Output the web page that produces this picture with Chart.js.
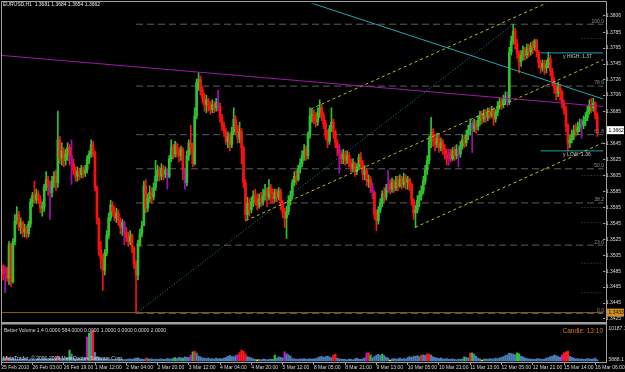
<!DOCTYPE html>
<html>
<head>
<meta charset="utf-8">
<script src="https://cdn.jsdelivr.net/npm/chart.js@4.4.0/dist/chart.umd.min.js"></script>
<style>
  html, body { margin: 0; padding: 0; background: #000; }
  #wrap { width: 625px; height: 372px; }
</style>
</head>
<body>
<div id="wrap"><canvas id="myChart" width="625" height="372"></canvas></div>
<script>
// EURUSD H1, prices kept in pips: 3490 -> 1.3490
let firstOpen = 3486;
let closes = [
  3490,3482,3488,3476,3518,3472,3522,3548,3556,3540,3546,3534,3538,3532,3544,3572,
  3580,3574,3582,3576,3564,3566,3590,3600,3592,3584,3598,3604,3596,3650,3626,3636,
  3624,3632,3640,3630,3620,3612,3604,3610,3606,3614,3608,3612,3626,3632,3644,3634,
  3590,3550,3512,3500,3486,3508,3530,3552,3568,3560,3552,3558,3548,3540,3546,3534,
  3528,3522,3530,3514,3494,3480,3520,3532,3542,3592,3564,3576,3584,3578,3590,3604,
  3612,3604,3614,3606,3612,3604,3626,3640,3632,3644,3636,3630,3638,3612,3596,3630,
  3646,3640,3620,3680,3722,3726,3712,3702,3694,3700,3692,3688,3694,3690,3696,3692,
  3678,3668,3660,3648,3654,3644,3660,3676,3664,3652,3660,3640,3596,3556,3570,3562,
  3572,3580,3574,3568,3576,3572,3580,3586,3578,3590,3582,3576,3584,3578,3586,3570,
  3560,3552,3560,3574,3580,3596,3604,3600,3614,3620,3630,3636,3630,3656,3680,3682,
  3676,3672,3684,3690,3680,3670,3656,3648,3664,3672,3660,3646,3640,3632,3626,3632,
  3624,3630,3622,3614,3620,3610,3616,3628,3620,3606,3612,3598,3600,3590,3584,3556,
  3548,3562,3570,3582,3578,3588,3594,3588,3596,3590,3598,3592,3600,3594,3602,3596,
  3600,3594,3574,3558,3562,3574,3580,3586,3598,3612,3624,3648,3660,3650,3644,3652,
  3640,3646,3638,3632,3626,3634,3626,3636,3630,3638,3632,3642,3650,3646,3656,3662,
  3670,3664,3670,3666,3674,3680,3676,3682,3678,3684,3680,3686,3676,3684,3692,3698,
  3694,3700,3704,3698,3760,3774,3786,3770,3758,3748,3756,3762,3756,3764,3760,3768,
  3766,3774,3760,3746,3740,3746,3740,3744,3752,3736,3724,3716,3708,3716,3710,3696,
  3688,3668,3646,3650,3656,3662,3660,3666,3670,3668,3674,3678,3686,3694,3690,3696,
  3681,3662
];
let highs = [
  3495,3493,3492,3490,3522,3520,3526,3556,3566,3560,3552,3548,3544,3542,3548,3576,
  3584,3598,3588,3586,3580,3572,3594,3610,3604,3598,3604,3610,3612,3686,3654,3646,
  3640,3638,3646,3644,3650,3626,3616,3616,3614,3618,3616,3618,3630,3636,3650,3648,
  3636,3592,3552,3522,3506,3512,3536,3558,3574,3572,3566,3564,3562,3552,3550,3548,
  3540,3534,3536,3532,3516,3498,3524,3538,3548,3598,3600,3582,3592,3590,3596,3624,
  3618,3616,3620,3618,3616,3614,3630,3650,3644,3648,3646,3640,3642,3640,3614,3636,
  3650,3668,3646,3690,3726,3734,3730,3716,3708,3706,3702,3698,3700,3698,3702,3712,
  3696,3682,3672,3664,3660,3658,3666,3690,3680,3668,3672,3664,3642,3600,3578,3576,
  3578,3586,3588,3582,3582,3584,3588,3594,3590,3600,3594,3588,3588,3588,3590,3588,
  3574,3564,3566,3580,3586,3600,3610,3612,3618,3626,3636,3644,3642,3660,3690,3688,
  3688,3684,3690,3700,3694,3684,3674,3662,3668,3690,3676,3662,3650,3644,3636,3638,
  3636,3636,3634,3626,3626,3622,3620,3632,3634,3624,3618,3614,3606,3604,3596,3586,
  3562,3566,3576,3586,3590,3594,3612,3600,3602,3600,3604,3604,3606,3604,3608,3606,
  3604,3602,3596,3576,3568,3580,3586,3592,3604,3618,3630,3655,3678,3664,3656,3658,
  3656,3652,3650,3644,3638,3638,3638,3640,3642,3644,3642,3648,3656,3656,3662,3668,
  3676,3674,3676,3674,3680,3686,3686,3688,3688,3690,3690,3692,3690,3688,3698,3702,
  3702,3706,3710,3710,3766,3780,3795,3790,3776,3762,3762,3768,3766,3770,3770,3772,
  3774,3776,3776,3762,3750,3750,3750,3750,3760,3756,3740,3728,3720,3722,3720,3712,
  3700,3692,3670,3656,3662,3668,3670,3672,3676,3676,3680,3684,3692,3700,3702,3702,
  3698,3684
];
let lows = [
  3480,3474,3458,3472,3468,3466,3470,3518,3544,3536,3532,3528,3528,3526,3528,3540,
  3566,3570,3570,3570,3558,3554,3560,3586,3580,3550,3578,3590,3586,3590,3620,3618,
  3616,3618,3624,3618,3594,3606,3598,3598,3600,3602,3602,3604,3608,3620,3628,3628,
  3586,3544,3504,3488,3461,3480,3504,3526,3548,3554,3548,3546,3542,3532,3530,3518,
  3522,3516,3518,3508,3488,3432,3474,3516,3528,3548,3558,3560,3572,3570,3574,3586,
  3598,3598,3600,3600,3602,3588,3602,3622,3626,3628,3628,3622,3624,3600,3588,3592,
  3624,3632,3616,3618,3676,3712,3706,3696,3686,3684,3686,3682,3684,3684,3686,3686,
  3672,3662,3654,3644,3640,3636,3640,3656,3656,3646,3646,3620,3590,3548,3550,3554,
  3558,3566,3568,3562,3564,3566,3568,3574,3566,3574,3570,3570,3572,3572,3574,3562,
  3552,3540,3526,3556,3568,3576,3592,3594,3598,3608,3616,3624,3624,3626,3652,3672,
  3670,3666,3668,3678,3674,3664,3650,3640,3644,3660,3652,3640,3630,3608,3620,3620,
  3618,3620,3616,3610,3610,3604,3606,3612,3614,3600,3600,3592,3590,3584,3576,3550,
  3536,3544,3558,3566,3572,3574,3584,3582,3584,3584,3586,3586,3590,3588,3590,3588,
  3588,3586,3568,3550,3540,3558,3566,3574,3582,3594,3606,3620,3640,3642,3636,3640,
  3634,3636,3632,3626,3618,3618,3622,3624,3624,3626,3616,3628,3638,3640,3642,3650,
  3656,3634,3660,3658,3662,3668,3670,3672,3672,3674,3676,3678,3668,3672,3680,3688,
  3688,3690,3694,3692,3694,3756,3770,3764,3752,3734,3742,3750,3750,3752,3754,3756,
  3758,3762,3754,3740,3734,3736,3732,3734,3740,3730,3718,3708,3700,3704,3700,3690,
  3682,3660,3636,3640,3646,3650,3654,3656,3660,3652,3664,3668,3674,3682,3684,3686,
  3676,3654
];
// bars drawn in the doji/line colour
let purpleBars = [2, 25, 36, 63, 85, 94, 111, 173, 190, 198, 229, 234, 241, 259, 297];

let volumes = [
  800,1000,700,1300,900,600,800,700,600,500,400,500,600,500,400,700,
  600,500,700,800,600,500,900,700,600,800,700,600,900,1600,1100,800,
  700,800,1000,3500,2200,900,700,600,800,600,700,1000,7600,8900,9200,9900,
  2800,1200,900,700,600,500,600,400,500,400,300,500,400,600,500,400,
  500,600,700,500,800,900,1000,700,600,500,900,800,600,700,500,600,
  500,600,700,500,600,800,700,600,900,1100,800,1200,1000,900,1300,1200,
  1100,1900,2900,3200,2500,1600,1300,1000,900,800,1000,700,800,600,900,700,
  800,700,900,1100,1500,1800,1400,1300,1700,2000,2700,3500,3100,2200,1400,1200,
  1000,700,500,400,500,400,600,500,400,500,600,500,1900,900,1300,1200,
  1000,2900,2300,2000,1600,800,700,600,500,700,600,800,500,600,700,600,
  700,800,1100,1300,1500,1200,1400,1600,1300,1100,1900,2200,900,700,600,500,
  500,400,600,500,400,700,900,600,500,700,1000,2500,2600,1900,1000,1400,
  1900,2100,1800,2200,1700,1200,900,300,700,800,600,700,900,600,800,700,
  1100,1400,1200,1600,1500,1700,1400,1900,2000,1800,2300,2200,1900,1300,1100,900,
  800,1000,700,600,800,500,600,700,500,400,600,500,700,1300,1200,900,
  2500,2600,2200,1500,900,700,300,600,700,500,800,600,700,900,800,1000,
  1200,1400,1700,2000,2500,2400,2200,2000,2600,2300,1500,1300,1000,800,700,600,
  600,500,700,800,600,500,700,900,1100,1400,1600,1900,1700,1400,1200,1900,
  2600,2900,3200,1500,1200,900,700,800,600,700,500,600,800,700,600,700,
  900,400
];
// b blue, r red, g green, m magenta, y yellow
let volColors = (
  "bbbrbbbbbbbbbbbb" + "bbbbbbbbbbbbbrbb" + "bbbgbbbbbbbbmgbr" + "bbbbbbbbbbbbbbbb" +
  "bbbbbbbbbbrbbbbb" + "bbbbbbbbbgbbbgbb" + "bmgrbbbbbbbbbbbb" + "bbbbbbbbbmrrrrbb" +
  "bbbybbbbbbbbgbbb" + "bmbbbbbbbbbbbbbb" + "bbbbbbbbbbrrbbbb" + "bbbbbbbbbbbmrgbb" +
  "bbbgbbbybbbbbbbb" + "bbbbbbbrbbrrbbbb" + "bbbbbbbbbbbbbgbb" + "rgbbbbybbbbbbbbb" +
  "bbbbbbbbggbbbbbb" + "bbbbbbbbbbbbbbbm" + "rrrbbbbbbbbbbbbb" + "bb"
).split("");

let tickLabels = ["25 Feb 2010", "26 Feb 03:00", "26 Feb 19:00", "1 Mar 12:00", "2 Mar 04:00",
  "2 Mar 20:00", "3 Mar 12:00", "4 Mar 04:00", "4 Mar 20:00", "5 Mar 12:00", "8 Mar 05:00",
  "8 Mar 21:00", "9 Mar 13:00", "10 Mar 05:00", "10 Mar 21:00", "11 Mar 13:00", "12 Mar 05:00",
  "12 Mar 21:00", "15 Mar 14:00", "16 Mar 06:00"];
let tickBars = tickLabels.map((t, k) => k * 16);

let priceTicks = [1.3806, 1.3785, 1.3765, 1.3745, 1.3726, 1.3706, 1.3685, 1.3645, 1.3625, 1.3605,
  1.3585, 1.3565, 1.3545, 1.3525, 1.3505, 1.3485, 1.3465, 1.3445, 1.3425];

// drawn objects, anchored by [bar, price]
let magentaLine = [[-2, 1.37563], [310, 1.36913]];
let cyanLine = [[150, 1.38286], [310, 1.36995]];
let channelTop = [[158.4, 1.36885], [290, 1.38338]];
let channelMid = [[125.2, 1.35485], [310, 1.37525]];
let channelLow = [[211.8, 1.3540], [310, 1.36484]];
let fibTrend = [[69, 1.3432], [262, 1.3795]];
let fibLow = 1.3432, fibHigh = 1.3795;
let fibLevels = [0, 23.6, 38.2, 50, 61.8, 78.6, 100];
let yHigh = 1.3759, yLow = 1.3636;
let orangeLevel = 1.3433;
let pivotGreen = [1.3565, 1.3495];
let pivotGray = [1.3777, 1.3605, 1.3546, 1.3458];
let bidPrice = 1.3662;

const p = (v) => 1 + v / 10000;
const n = closes.length;
const opens = closes.map((c, i) => (i === 0 ? firstOpen : closes[i - 1]));

const candleColor = [];
for (let i = 0; i < n; i++) {
  if (purpleBars.includes(i)) candleColor.push("#a010b4");
  else if (closes[i] >= opens[i]) candleColor.push("#2fc22f");
  else candleColor.push("#ff1010");
}
const volPalette = { b: "#4a80b8", r: "#ff1a1a", g: "#2ec42e", m: "#d010d0", y: "#e6e600" };

function lineDs(pts, color, dash, order) {
  return {
    type: "line",
    data: pts.map((q) => ({ x: q[0], y: q[1] })),
    borderColor: color,
    borderWidth: 1,
    borderDash: dash || [],
    pointRadius: 0,
    fill: false,
    tension: 0,
    order: order,
    yAxisID: "y",
  };
}

const datasets = [];
datasets.push(lineDs(magentaLine, "#a01aa8", null, 1));
datasets.push(lineDs(cyanLine, "#1fa8b8", null, 1));
datasets.push(lineDs(channelTop, "#bcbc22", [3, 3], 1));
datasets.push(lineDs(channelMid, "#bcbc22", [3, 3], 1));
datasets.push(lineDs(channelLow, "#bcbc22", [3, 3], 1));
datasets.push(lineDs(fibTrend, "#228898", [1, 2], 2));
datasets.push(lineDs([[276, yHigh], [310, yHigh]], "#1fa0b0", null, 2));
datasets.push(lineDs([[276, yLow], [310, yLow]], "#1fa0b0", null, 2));

const fibPrice = (lv) => fibLow + (fibHigh - fibLow) * lv / 100;
fibLevels.forEach((lv) => {
  datasets.push(lineDs([[69, fibPrice(lv)], [310, fibPrice(lv)]], "#5e5e5e", [7, 4], 10));
});
datasets.push(lineDs([[-2, orangeLevel], [310, orangeLevel]], "#8a6414", null, 9));
pivotGreen.forEach((v) => datasets.push(lineDs([[297, v], [308, v]], "#2e6a2e", [1, 2], 10)));
pivotGray.forEach((v) => datasets.push(lineDs([[297, v], [308, v]], "#4a4a4a", [1, 2], 10)));

// candles: wick + body
datasets.push({
  type: "bar",
  data: closes.map((c, i) => ({ x: i, y: [p(Math.min(lows[i], opens[i], c)), p(Math.max(highs[i], opens[i], c))] })),
  backgroundColor: candleColor,
  barThickness: 1,
  grouped: false,
  order: 6,
  yAxisID: "y",
});
datasets.push({
  type: "bar",
  data: closes.map((c, i) => ({ x: i, y: [p(opens[i]), p(c)] })),
  backgroundColor: candleColor,
  barThickness: 2,
  minBarLength: 1,
  grouped: false,
  order: 5,
  yAxisID: "y",
});
// volume histogram
datasets.push({
  type: "bar",
  data: volumes.map((v, i) => ({ x: i, y: v })),
  backgroundColor: volColors.map((k) => volPalette[k]),
  barThickness: 1.5,
  grouped: false,
  order: 5,
  yAxisID: "yVol",
});

const smallFont = '5px "Liberation Sans"';

const mtDecor = {
  id: "mtDecor",
  beforeDraw(chart) {
    const ctx = chart.ctx;
    ctx.save();
    ctx.fillStyle = "#000";
    ctx.fillRect(0, 0, chart.width, chart.height);
    ctx.restore();
  },
  afterDraw(chart) {
    const ctx = chart.ctx;
    const ys = chart.scales.y;
    ctx.save();
    // panel borders
    ctx.strokeStyle = "#a0a0a0";
    ctx.lineWidth = 1;
    ctx.beginPath();
    ctx.moveTo(1.5, 1.5); ctx.lineTo(606.5, 1.5);
    ctx.moveTo(1.5, 1.5); ctx.lineTo(1.5, 362.5);
    ctx.moveTo(606.5, 1.5); ctx.lineTo(606.5, 363);
    ctx.moveTo(1.5, 362.5); ctx.lineTo(606.5, 362.5);
    ctx.stroke();
    ctx.fillStyle = "#a0a0a0";
    ctx.fillRect(1, 322, 606, 2.5);

    // header
    ctx.font = smallFont;
    ctx.textBaseline = "middle";
    ctx.textAlign = "left";
    ctx.fillStyle = "#e6e6e6";
    ctx.fillText("EURUSD,H1  1.3681 1.3684 1.3654 1.3662", 3, 5);

    // fibo labels
    ctx.fillStyle = "#8a8a8a";
    ctx.textAlign = "right";
    ctx.textBaseline = "bottom";
    fibLevels.forEach((lv) => {
      ctx.fillText(lv.toFixed(1), 604, ys.getPixelForValue(fibPrice(lv)) - 0.5);
    });

    // yesterday high / low labels
    ctx.textAlign = "left";
    ctx.textBaseline = "top";
    ctx.fillStyle = "#c8c8c8";
    ctx.fillText("y HIGH: 1.37", 563, ys.getPixelForValue(yHigh) + 1.5);
    ctx.fillText("y LOW: 1.36", 563, ys.getPixelForValue(yLow) + 1.5);

    // price boxes on the axis
    ctx.textBaseline = "middle";
    let by = ys.getPixelForValue(bidPrice);
    ctx.fillStyle = "#ffffff";
    ctx.fillRect(607, by - 4, 17, 8);
    ctx.fillStyle = "#000000";
    ctx.fillText("1.3662", 608.5, by);
    let oy = ys.getPixelForValue(orangeLevel);
    ctx.fillStyle = "#d48a1c";
    ctx.fillRect(607, oy - 4, 17, 8);
    ctx.fillStyle = "#1a1208";
    ctx.fillText("1.3433", 608.5, oy);

    // volume window texts
    ctx.fillStyle = "#d8d8d8";
    ctx.fillText("Better Volume 1.4 0.0000 584.0000 0.0000 1.0000 0.0000 0.0000 2.0000", 4, 331);
    ctx.fillText("MetaTrader, \u00a9 2001-2009 MetaQuotes Software Corp.", 3, 358.5);
    ctx.fillText("10187.1", 608.5, 329);
    ctx.fillText("5888.1", 608.5, 360);
    ctx.font = '6.5px "Liberation Sans"';
    ctx.fillStyle = "#d07f1e";
    ctx.textAlign = "right";
    ctx.fillText("Candle: 13:10", 603, 331);
    ctx.restore();
  },
};

const config = {
  type: "bar",
  data: { datasets: datasets },
  options: {
    responsive: false,
    animation: false,
    devicePixelRatio: 1,
    layout: { padding: { left: 1, top: 2, right: 0, bottom: 0 } },
    plugins: { legend: { display: false }, tooltip: { enabled: false } },
    scales: {
      x: {
        type: "linear",
        min: -0.102,
        max: 308.1,
        offset: false,
        afterBuildTicks: (scale) => {
          scale.ticks = tickBars.map((v) => ({ value: v }));
        },
        afterFit: (scale) => {
          scale.height = 10;
        },
        grid: { display: true, drawOnChartArea: false, offset: false, tickLength: 3, color: "#a0a0a0" },
        border: { display: false },
        ticks: {
          autoSkip: false,
          maxRotation: 0,
          minRotation: 0,
          align: "start",
          padding: 0,
          color: "#d8d8d8",
          font: { family: "Liberation Sans", size: 5 },
          callback: (v, idx) => tickLabels[idx],
        },
      },
      y: {
        type: "linear",
        position: "right",
        min: 1.3371,
        max: 1.3821,
        afterBuildTicks: (scale) => {
          scale.ticks = priceTicks.map((v) => ({ value: v }));
        },
        afterFit: (scale) => {
          scale.width = 19;
        },
        grid: { display: true, drawOnChartArea: false, tickLength: 2, color: "#a0a0a0" },
        border: { display: false },
        ticks: {
          padding: 0.5,
          color: "#d8d8d8",
          font: { family: "Liberation Sans", size: 5 },
          callback: (v) => v.toFixed(4),
        },
      },
      yVol: {
        type: "linear",
        display: false,
        min: -318,
        max: 114162,
      },
    },
  },
  plugins: [mtDecor],
};

const myChart = new Chart(document.getElementById("myChart"), config);
</script>
</body>
</html>
